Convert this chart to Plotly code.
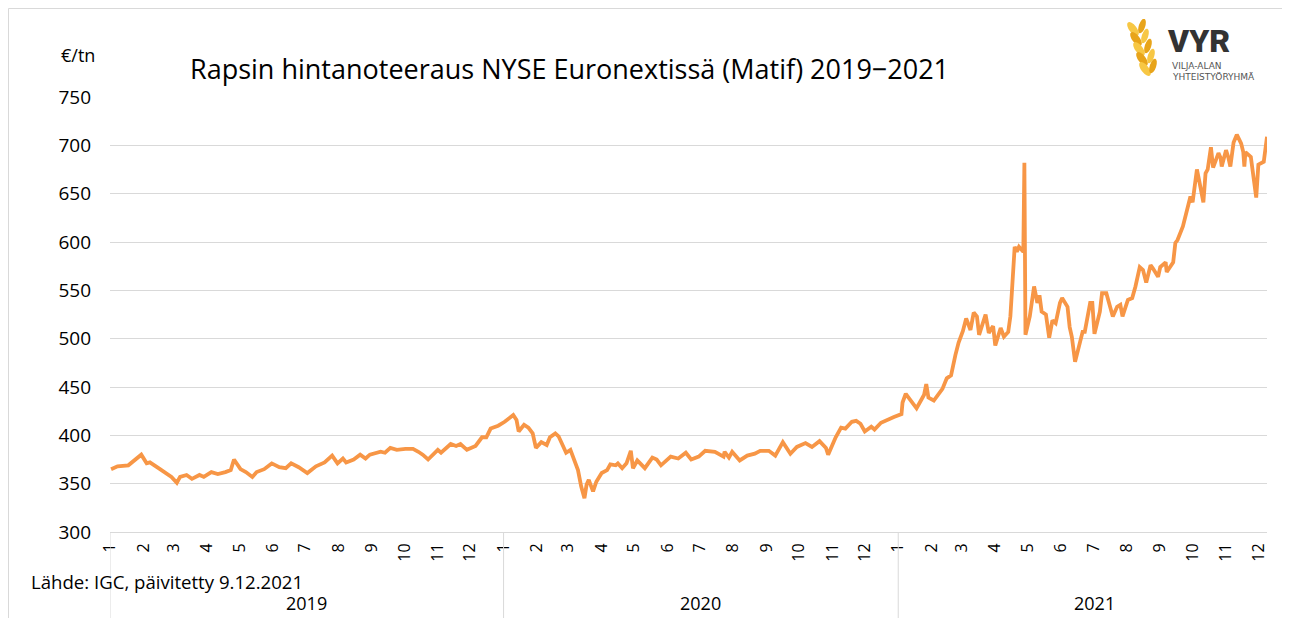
import base64
import pandas as pd
import plotly.graph_objects as go

# ---------------- data ----------------
dates_2019 = ["2019-01-02", "2019-01-08", "2019-01-18", "2019-01-24", "2019-01-30", "2019-02-04",
              "2019-02-07", "2019-02-15", "2019-02-21", "2019-02-27", "2019-03-04", "2019-03-07",
              "2019-03-13", "2019-03-18", "2019-03-25", "2019-03-29", "2019-04-05", "2019-04-11",
              "2019-04-18", "2019-04-23", "2019-04-26", "2019-05-02", "2019-05-07", "2019-05-13",
              "2019-05-17", "2019-05-24", "2019-05-31", "2019-06-07", "2019-06-13", "2019-06-18",
              "2019-06-25", "2019-07-03", "2019-07-11", "2019-07-19", "2019-07-26", "2019-07-31",
              "2019-08-05", "2019-08-08", "2019-08-15", "2019-08-21", "2019-08-26", "2019-08-30",
              "2019-09-09", "2019-09-13", "2019-09-18", "2019-09-24", "2019-10-02", "2019-10-09",
              "2019-10-14", "2019-10-18", "2019-10-23", "2019-10-28", "2019-11-01", "2019-11-04",
              "2019-11-13", "2019-11-18", "2019-11-22", "2019-11-28", "2019-12-06", "2019-12-12",
              "2019-12-16", "2019-12-20", "2019-12-27"]
values_2019 = [365, 368, 369, 374, 380, 371,
               372, 366, 361, 357, 351, 357,
               359, 355, 359, 357, 362, 360,
               362, 364, 375, 365, 362, 357,
               362, 365, 371, 367, 366, 371,
               367, 361, 368, 372, 379, 371,
               376, 372, 375, 380, 376, 380,
               383, 382, 387, 385, 386, 386,
               383, 380, 375, 380, 385, 382,
               391, 389, 391, 385, 389, 398,
               398, 407, 410]

dates_2020 = ["2020-01-02", "2020-01-08", "2020-01-10", "2020-01-13", "2020-01-15", "2020-01-20",
              "2020-01-24", "2020-01-28", "2020-01-31", "2020-02-05", "2020-02-10", "2020-02-13",
              "2020-02-18", "2020-02-21", "2020-02-24", "2020-02-28", "2020-03-03", "2020-03-06",
              "2020-03-10", "2020-03-13", "2020-03-16", "2020-03-18", "2020-03-20", "2020-03-24",
              "2020-03-27", "2020-04-01", "2020-04-06", "2020-04-09", "2020-04-14", "2020-04-16",
              "2020-04-20", "2020-04-24", "2020-04-28", "2020-04-30", "2020-05-04", "2020-05-11",
              "2020-05-18", "2020-05-22", "2020-05-26", "2020-06-04", "2020-06-11", "2020-06-18",
              "2020-06-23", "2020-06-30", "2020-07-06", "2020-07-15", "2020-07-23", "2020-07-24",
              "2020-07-28", "2020-07-31", "2020-08-07", "2020-08-14", "2020-08-21", "2020-08-26",
              "2020-09-03", "2020-09-09", "2020-09-16", "2020-09-23", "2020-09-29", "2020-10-07",
              "2020-10-13", "2020-10-20", "2020-10-26", "2020-10-28", "2020-10-30", "2020-11-04",
              "2020-11-09", "2020-11-13", "2020-11-19", "2020-11-23", "2020-11-27", "2020-12-01",
              "2020-12-07", "2020-12-10", "2020-12-16", "2020-12-23", "2020-12-28"]
values_2020 = [414, 419, 421, 416, 404, 411,
               408, 402, 387, 393, 390, 398,
               402, 399, 392, 382, 385, 375,
               364, 347, 335, 349, 354, 342,
               352, 361, 364, 370, 369, 371,
               366, 371, 384, 366, 374, 366,
               377, 375, 369, 378, 376, 382,
               375, 378, 384, 383, 378, 383,
               377, 383, 374, 379, 381, 384,
               384, 379, 393, 381, 388, 392,
               388, 394, 387, 380, 385, 398,
               408, 407, 414, 415, 412, 404,
               409, 406, 413, 417, 419]

dates_2021 = ["2021-01-04", "2021-01-05", "2021-01-08", "2021-01-14", "2021-01-18", "2021-01-21",
              "2021-01-25", "2021-01-27", "2021-01-29", "2021-02-03", "2021-02-08", "2021-02-11",
              "2021-02-15", "2021-02-19", "2021-02-23", "2021-02-26", "2021-03-02", "2021-03-04",
              "2021-03-05", "2021-03-09", "2021-03-12", "2021-03-15", "2021-03-17", "2021-03-23",
              "2021-03-26", "2021-03-30", "2021-04-01", "2021-04-06", "2021-04-09", "2021-04-13",
              "2021-04-15", "2021-04-19", "2021-04-21", "2021-04-23", "2021-04-27", "2021-04-28",
              "2021-04-29", "2021-05-03", "2021-05-05", "2021-05-07", "2021-05-10", "2021-05-12",
              "2021-05-14", "2021-05-18", "2021-05-21", "2021-05-24", "2021-05-27", "2021-05-31",
              "2021-06-02", "2021-06-07", "2021-06-09", "2021-06-11", "2021-06-14", "2021-06-17",
              "2021-06-21", "2021-06-23", "2021-06-28", "2021-06-30", "2021-07-02", "2021-07-07",
              "2021-07-09", "2021-07-13", "2021-07-19", "2021-07-23", "2021-07-26", "2021-07-28",
              "2021-08-02", "2021-08-06", "2021-08-09", "2021-08-13", "2021-08-16", "2021-08-19",
              "2021-08-23", "2021-08-25", "2021-08-30", "2021-09-01", "2021-09-06", "2021-09-07",
              "2021-09-13", "2021-09-15", "2021-09-17", "2021-09-22", "2021-09-27", "2021-09-29",
              "2021-10-01", "2021-10-05", "2021-10-07", "2021-10-11", "2021-10-13", "2021-10-15",
              "2021-10-18", "2021-10-20", "2021-10-25", "2021-10-27", "2021-10-28", "2021-11-01",
              "2021-11-03", "2021-11-05", "2021-11-08", "2021-11-11", "2021-11-15", "2021-11-17",
              "2021-11-18", "2021-11-19", "2021-11-24", "2021-11-29", "2021-12-01", "2021-12-06",
              "2021-12-09"]
values_2021 = [422, 434, 443, 434, 428, 434,
               442, 453, 439, 436, 444, 448,
               459, 462, 483, 496, 508, 519,
               521, 509, 527, 523, 504, 525,
               506, 513, 493, 511, 502, 507,
               523, 595, 590, 595, 590, 682,
               504, 523, 540, 554, 537, 545,
               528, 525, 501, 519, 516, 537,
               542, 533, 512, 502, 476, 488,
               507, 507, 537, 537, 505, 528,
               547, 547, 523, 533, 535, 523,
               540, 542, 554, 574, 571, 558,
               576, 573, 564, 574, 579, 569,
               579, 599, 602, 616, 638, 647,
               641, 675, 664, 641, 671, 675,
               698, 677, 692, 687, 678, 695,
               688, 678, 703, 711, 702, 693,
               678, 693, 688, 646, 680, 683,
               709]

month_labels = [str(m) for m in range(1, 13)] * 3
year_labels = ["2019", "2020", "2021"]
y_ticks = [300, 350, 400, 450, 500, 550, 600, 650, 700, 750]

title_text = "Rapsin hintanoteeraus NYSE Euronextissä (Matif) 2019\u22122021"
unit_text = "€/tn"
source_text = "Lähde: IGC, päivitetty 9.12.2021"

# ---------------- figure ----------------
dates = pd.to_datetime(dates_2019 + dates_2020 + dates_2021)
values = values_2019 + values_2020 + values_2021

month_starts = pd.date_range("2019-01-01", "2021-12-01", freq="MS")

FONT = "Open Sans"
ORANGE = "#F79646"
GRID = "#D9D9D9"

fig = go.Figure()
fig.add_trace(go.Scatter(
    x=dates, y=values, mode="lines",
    line=dict(color=ORANGE, width=3.8),
    hoverinfo="x+y", showlegend=False,
))

# the page body has an 8px margin: the figure is placed at (8, 8) in the window
OFF = 8
W, H = 1290 - OFF, 618 - OFF
# target plot area in window pixels: x 110..1267, y 97..532
L, R, T, B = 110 - OFF, 1290 - 1267, 97 - OFF, 618 - 532
pw, ph = W - L - R, H - T - B


def px(xwin):
    return (xwin - OFF - L) / pw


def py(ywin):
    return (T + ph - (ywin - OFF)) / ph


annotations = [
    dict(text=title_text, xref="paper", yref="paper", x=px(569), y=py(68),
         xanchor="center", yanchor="middle", showarrow=False,
         font=dict(family=FONT, size=27, color="#000000")),
    dict(text=unit_text, xref="paper", yref="paper", x=px(78), y=py(55),
         xanchor="center", yanchor="middle", showarrow=False,
         font=dict(family=FONT, size=18, color="#000000")),
    dict(text=source_text, xref="paper", yref="paper", x=px(29), y=py(581),
         xanchor="left", yanchor="middle", showarrow=False,
         font=dict(family=FONT, size=18.6, color="#000000")),
    dict(text="VYR", xref="paper", yref="paper", x=px(1165), y=py(41),
         xanchor="left", yanchor="middle", showarrow=False,
         font=dict(family="Roboto", size=32, color="#333333", weight=900)),
    dict(text="VILJA-ALAN", xref="paper", yref="paper", x=px(1170), y=py(66),
         xanchor="left", yanchor="middle", showarrow=False,
         font=dict(family="DejaVu Sans", size=9, color="#555555")),
    dict(text="YHTEISTYÖRYHMÄ", xref="paper", yref="paper", x=px(1170), y=py(77),
         xanchor="left", yanchor="middle", showarrow=False,
         font=dict(family="DejaVu Sans", size=9, color="#555555")),
]
year_mid = ["2019-07-02", "2020-07-02", "2021-07-02"]
for yl, ym in zip(year_labels, year_mid):
    annotations.append(dict(text=yl, xref="x", yref="paper", x=ym, y=py(603),
                            xanchor="center", yanchor="middle", showarrow=False,
                            font=dict(family=FONT, size=18, color="#000000")))

shapes = []
for yb in ["2019-01-01", "2020-01-01", "2021-01-01"]:
    shapes.append(dict(type="line", xref="x", yref="paper", x0=yb, x1=yb,
                       y0=0, y1=py(640), line=dict(color=GRID, width=1)))
# outer chart border (left and top edges visible)
shapes.append(dict(type="line", xref="paper", yref="paper", x0=px(8.5), x1=px(1300),
                   y0=py(8.5), y1=py(8.5), line=dict(color=GRID, width=1)))
shapes.append(dict(type="line", xref="paper", yref="paper", x0=px(8.5), x1=px(8.5),
                   y0=py(8.5), y1=py(640), line=dict(color=GRID, width=1)))

# wheat emblem of the logo (decorative graphic)
leaf_l = [(9, 10), (12, 20), (15, 30), (18, 40), (21, 50)]
leaf_r = [(18, 7), (21, 17), (24, 27), (27, 37), (29, 47)]
parts = []
for i, (cx, cy) in enumerate(leaf_l):
    col = "#F7C744" if i % 2 == 0 else "#E8A41A"
    parts.append(f"<ellipse cx='{cx}' cy='{cy}' rx='3.8' ry='8.2' fill='{col}' "
                 f"transform='rotate(-38 {cx} {cy})'/>")
for i, (cx, cy) in enumerate(leaf_r):
    col = "#E8A41A" if i % 2 == 0 else "#F7C744"
    parts.append(f"<ellipse cx='{cx}' cy='{cy}' rx='3.2' ry='7.6' fill='{col}' "
                 f"transform='rotate(18 {cx} {cy})'/>")
svg = ("<svg xmlns='http://www.w3.org/2000/svg' viewBox='0 0 40 64'>"
       + "".join(parts) + "</svg>")
svg_uri = "data:image/svg+xml;base64," + base64.b64encode(svg.encode()).decode()

fig.update_layout(
    width=W, height=H,
    margin=dict(l=L, r=R, t=T, b=B, pad=0),
    paper_bgcolor="white", plot_bgcolor="white",
    font=dict(family=FONT, color="#000000"),
    annotations=annotations,
    shapes=shapes,
    images=[dict(source=svg_uri, xref="paper", yref="paper",
                 x=px(1124), y=py(19), sizex=40 / pw, sizey=64 / ph,
                 xanchor="left", yanchor="top", sizing="stretch", layer="above")],
    xaxis=dict(
        type="date",
        range=["2019-01-01", "2021-12-09"],
        tickmode="array", tickvals=month_starts, ticktext=month_labels,
        tickangle=-90, tickfont=dict(family=FONT, size=16, color="#000000"),
        showgrid=False, showline=True, linecolor=GRID, linewidth=1,
        ticks="", ticklabelstandoff=4, zeroline=False,
    ),
    yaxis=dict(
        range=[300, 750], tickvals=y_ticks,
        tickfont=dict(family=FONT, size=19, color="#000000"),
        showgrid=True, gridcolor=GRID, gridwidth=1,
        zeroline=False, showline=False, ticks="", ticklabelstandoff=18,
    ),
    showlegend=False,
)

fig.write_html("out.html")
